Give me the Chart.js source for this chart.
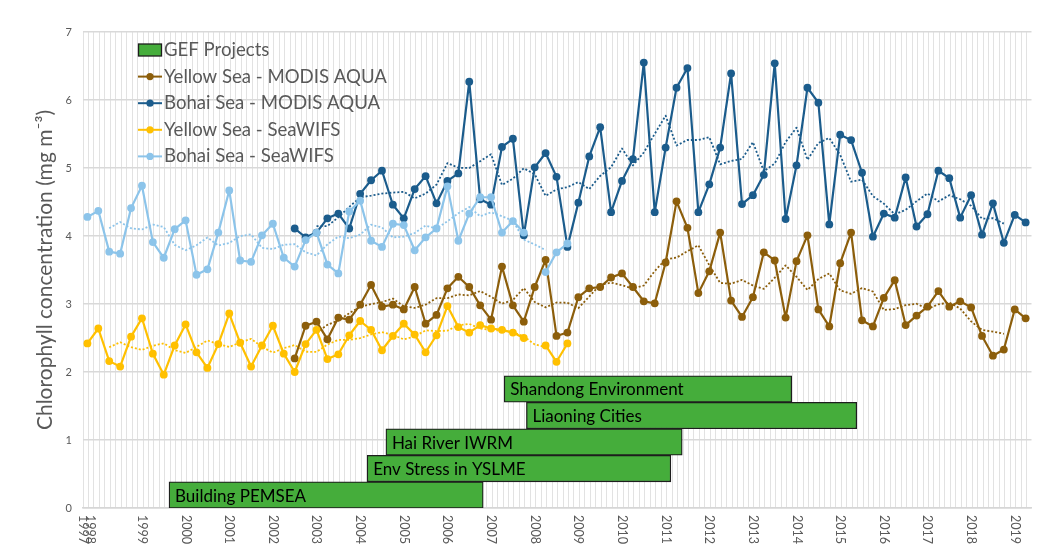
<!DOCTYPE html>
<html>
<head>
<meta charset="utf-8">
<script src="https://cdn.jsdelivr.net/npm/chart.js@4.4.1/dist/chart.umd.min.js"></script>
<style>
  html, body { margin: 0; padding: 0; background: #fff; }
  canvas { display: block; }
</style>
</head>
<body>
<canvas id="chl-chart" width="1060" height="548"></canvas>
<script>
// seasonal (quarterly) values, mg m-3
const seasonStep = 0.25;
const seawifsStart = 1997.75;
const modisStart = 2002.5;

const bohaiSeawifs = [4.28, 4.37, 3.77, 3.74, 4.41, 4.74, 3.91, 3.68, 4.10, 4.23, 3.43, 3.51,
  4.05, 4.67, 3.64, 3.62, 4.01, 4.18, 3.68, 3.55, 3.94, 4.05, 3.58, 3.45, 4.36, 4.52, 3.93,
  3.84, 4.18, 4.16, 3.79, 3.98, 4.11, 4.73, 3.93, 4.33, 4.57, 4.57, 4.05, 4.22, 4.05, null,
  3.47, 3.76, 3.89];
const yellowSeawifs = [2.42, 2.64, 2.16, 2.08, 2.52, 2.79, 2.27, 1.96, 2.39, 2.70, 2.29, 2.06,
  2.41, 2.86, 2.43, 2.08, 2.39, 2.68, 2.27, 2.00, 2.41, 2.62, 2.19, 2.26, 2.54, 2.75, 2.62,
  2.32, 2.53, 2.71, 2.55, 2.29, 2.54, 2.97, 2.66, 2.58, 2.69, 2.64, 2.62, 2.58, 2.50, null,
  2.39, 2.15, 2.42];
const bohaiModis = [4.11, 3.98, 4.05, 4.26, 4.33, 4.11, 4.62, 4.82, 4.96, 4.46, 4.26, 4.69,
  4.88, 4.48, 4.81, 4.92, 6.27, 4.54, 4.46, 5.31, 5.43, 4.01, 5.01, 5.22, 4.87, 3.84, 4.49,
  5.17, 5.60, 4.35, 4.81, 5.13, 6.55, 4.35, 5.30, 6.18, 6.47, 4.35, 4.76, 5.30, 6.39, 4.47,
  4.60, 4.90, 6.54, 4.25, 5.04, 6.18, 5.96, 4.17, 5.49, 5.41, 4.93, 3.99, 4.33, 4.27, 4.86,
  4.14, 4.32, 4.96, 4.85, 4.27, 4.60, 4.02, 4.48, 3.90, 4.31, 4.20];
const yellowModis = [2.20, 2.68, 2.74, 2.48, 2.80, 2.77, 2.99, 3.28, 2.96, 2.99, 2.92, 3.25,
  2.71, 2.84, 3.23, 3.40, 3.25, 2.98, 2.77, 3.55, 2.98, 2.74, 3.25, 3.65, 2.53, 2.58, 3.10,
  3.23, 3.25, 3.39, 3.45, 3.25, 3.04, 3.01, 3.61, 4.51, 4.12, 3.16, 3.48, 4.05, 3.05, 2.81,
  3.10, 3.76, 3.64, 2.80, 3.63, 4.01, 2.92, 2.67, 3.60, 4.05, 2.76, 2.67, 3.09, 3.35, 2.69,
  2.83, 2.96, 3.19, 2.96, 3.04, 2.95, 2.53, 2.24, 2.33, 2.92, 2.79];

// GEF projects (start / end as decimal year, row level on the value axis)
const projectNames = ['Building PEMSEA', 'Env Stress in YSLME', 'Hai River IWRM',
  'Liaoning Cities', 'Shandong Environment'];
const projectStart = [1999.62, 2004.16, 2004.59, 2007.81, 2007.30];
const projectEnd = [2006.82, 2011.12, 2011.38, 2015.38, 2013.89];
const projectLevel = [0.19, 0.58, 0.97, 1.36, 1.75];

const yearLabels = ['1997', '1998', '1999', '2000', '2001', '2002', '2003', '2004', '2005',
  '2006', '2007', '2008', '2009', '2010', '2011', '2012', '2013', '2014', '2015', '2016',
  '2017', '2018', '2019'];
const yearLabelAt = [1997.66, 1997.80, 1999, 2000, 2001, 2002, 2003, 2004, 2005, 2006, 2007,
  2008, 2009, 2010, 2011, 2012, 2013, 2014, 2015, 2016, 2017, 2018, 2019];

const axisStart = 1997.649;
const axisEnd = 2019.384;

const colors = {
  yellowModis: '#8C5E0B',
  bohaiModis: '#1B5C8C',
  yellowSeawifs: '#FFC000',
  bohaiSeawifs: '#8CC4EA',
  gef: '#45AD3B'
};

// 5-point centred running mean, as the dotted trend lines
function runningMean(values, half) {
  return values.map((v, i) => {
    if (i < half || i >= values.length - half) return null;
    const win = values.slice(i - half, i + half + 1).filter(n => n !== null);
    return win.reduce((a, b) => a + b, 0) / win.length;
  });
}

function toPoints(values, start) {
  return values.map((v, i) => ({ x: start + i * seasonStep, y: v }));
}

function seriesSet(label, values, start, color, order) {
  return {
    type: 'line',
    label: label,
    data: toPoints(values, start),
    borderColor: color,
    backgroundColor: color,
    borderWidth: 2.2,
    borderJoinStyle: 'round',
    pointRadius: 3.9,
    pointHoverRadius: 3.9,
    pointBorderWidth: 0,
    spanGaps: false,
    order: order
  };
}

function trendSet(values, start, color) {
  return {
    type: 'line',
    label: 'trend',
    data: toPoints(runningMean(values, 2), start),
    borderColor: color,
    borderWidth: 1.8,
    borderDash: [2, 2],
    borderJoinStyle: 'round',
    pointRadius: 0,
    spanGaps: false,
    order: 6
  };
}

const gefBars = {
  type: 'bar',
  label: 'GEF Projects',
  indexAxis: 'y',
  data: projectNames.map((n, i) => ({ x: [projectStart[i], projectEnd[i]], y: projectLevel[i] })),
  backgroundColor: colors.gef,
  borderColor: '#1e1e1e',
  borderWidth: 1.3,
  borderSkipped: false,
  barThickness: 26.5,
  grouped: false,
  order: 10
};

const barLabels = {
  id: 'barLabels',
  afterDatasetsDraw(chart) {
    const ctx = chart.ctx;
    const meta = chart.getDatasetMeta(0);
    ctx.save();
    ctx.fillStyle = '#000';
    ctx.font = '17px Lato';
    ctx.textAlign = 'left';
    ctx.textBaseline = 'middle';
    meta.data.forEach((bar, i) => {
      const left = Math.min(bar.x, bar.base);
      ctx.fillText(projectNames[i], left + 6, bar.y + 1);
    });
    ctx.restore();
  }
};

const yearAxisLabels = {
  id: 'yearAxisLabels',
  afterDraw(chart) {
    const { ctx, chartArea } = chart;
    const x = chart.scales.x;
    ctx.save();
    ctx.fillStyle = '#595959';
    ctx.font = '12.5px Lato';
    ctx.textAlign = 'left';
    ctx.textBaseline = 'middle';
    yearLabels.forEach((label, i) => {
      ctx.save();
      ctx.translate(x.getPixelForValue(yearLabelAt[i]), chartArea.bottom + 7);
      ctx.rotate(Math.PI / 2);
      ctx.fillText(label, 0, 0);
      ctx.restore();
    });
    ctx.restore();
  }
};

const insideLegend = {
  id: 'insideLegend',
  afterDraw(chart) {
    const ctx = chart.ctx;
    const x0 = 138, textX = 164, top = 50, row = 26.6;
    ctx.save();
    ctx.font = '18.6px Lato';
    ctx.textAlign = 'left';
    ctx.textBaseline = 'middle';
    ctx.fillStyle = colors.gef;
    ctx.fillRect(x0 + 0.5, top - 6, 23, 12);
    ctx.strokeStyle = '#1e1e1e';
    ctx.lineWidth = 1.3;
    ctx.strokeRect(x0 + 0.5, top - 6, 23, 12);
    ctx.fillStyle = '#595959';
    ctx.fillText('GEF Projects', textX, top);
    const entries = [
      ['Yellow Sea - MODIS AQUA', colors.yellowModis],
      ['Bohai Sea - MODIS AQUA', colors.bohaiModis],
      ['Yellow Sea - SeaWIFS', colors.yellowSeawifs],
      ['Bohai Sea - SeaWIFS', colors.bohaiSeawifs]
    ];
    entries.forEach(([text, c], i) => {
      const y = top + row * (i + 1);
      ctx.strokeStyle = c;
      ctx.lineWidth = 2;
      ctx.beginPath();
      ctx.moveTo(x0, y);
      ctx.lineTo(x0 + 24, y);
      ctx.stroke();
      ctx.fillStyle = c;
      ctx.beginPath();
      ctx.arc(x0 + 12, y, 3.6, 0, Math.PI * 2);
      ctx.fill();
      ctx.fillStyle = '#595959';
      ctx.fillText(text, textX, y);
    });
    ctx.restore();
  }
};

Chart.defaults.font.family = 'Lato';

const ctx = document.getElementById('chl-chart').getContext('2d');
const chlChart = new Chart(ctx, {
  data: {
    datasets: [
      gefBars,
      seriesSet('Yellow Sea - MODIS AQUA', yellowModis, modisStart, colors.yellowModis, 4),
      seriesSet('Bohai Sea - MODIS AQUA', bohaiModis, modisStart, colors.bohaiModis, 3),
      seriesSet('Yellow Sea - SeaWIFS', yellowSeawifs, seawifsStart, colors.yellowSeawifs, 2),
      seriesSet('Bohai Sea - SeaWIFS', bohaiSeawifs, seawifsStart, colors.bohaiSeawifs, 1),
      trendSet(yellowModis, modisStart, colors.yellowModis),
      trendSet(bohaiModis, modisStart, colors.bohaiModis),
      trendSet(yellowSeawifs, seawifsStart, colors.yellowSeawifs),
      trendSet(bohaiSeawifs, seawifsStart, colors.bohaiSeawifs)
    ]
  },
  options: {
    responsive: false,
    animation: false,
    devicePixelRatio: 1,
    layout: { padding: { top: 32, right: 28.5, bottom: 0, left: 0 } },
    plugins: {
      legend: { display: false },
      tooltip: { enabled: false }
    },
    scales: {
      x: {
        type: 'linear',
        offset: false,
        min: axisStart,
        max: axisEnd,
        afterBuildTicks(scale) {
          const t = [];
          for (let v = axisStart; v <= axisEnd + 1e-6; v += 0.125) t.push({ value: v });
          scale.ticks = t;
        },
        afterFit(scale) { scale.height = 40; },
        ticks: { display: false },
        grid: { color: '#e2e2e2', lineWidth: 1, drawTicks: false, offset: false },
        border: { color: '#d6d6d6', width: 1.5 }
      },
      y: {
        type: 'linear',
        offset: false,
        min: 0,
        max: 7,
        afterFit(scale) { scale.width = 83; },
        ticks: { stepSize: 1, color: '#595959', font: { size: 11 }, padding: 11 },
        grid: { color: '#d9d9d9', lineWidth: 1.5, drawTicks: false, offset: false },
        border: { display: false },
        title: {
          display: true,
          text: 'Chlorophyll concentration (mg m⁻³)',
          color: '#595959',
          font: { size: 21 },
          padding: { top: 33, bottom: 0 }
        }
      }
    }
  },
  plugins: [barLabels, yearAxisLabels, insideLegend]
});
</script>
</body>
</html>
